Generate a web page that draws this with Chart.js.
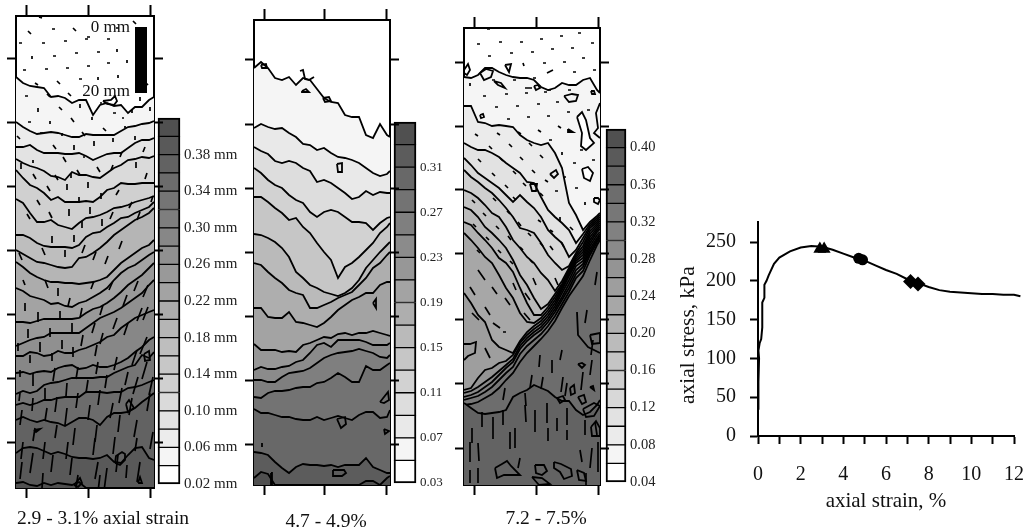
<!DOCTYPE html>
<html><head><meta charset="utf-8">
<style>html,body{margin:0;padding:0;background:#fff;overflow:hidden}canvas{position:absolute;display:block}</style>
<script src="https://cdn.jsdelivr.net/npm/chart.js@4/dist/chart.umd.min.js"></script>
</head><body>
<script>
// ---------- axial stress / strain curve ----------
const curveStrain=[0,0.03,0.01,0.05,0.02,0.08,0.15,0.2,0.2,0.3,0.3,0.4,0.5,0.75,1,1.5,2,2.5,3,3.5,4,4.5,5,5.5,6,6.5,7,7.5,8,8.5,9,9.5,10,10.5,11,11.5,12,12.3];
const curveStress=[35,60,70,100,110,120,125,140,172,178,195,200,207,222,230,238,243,245,244,240,235,230,226,220,214,209,202,197,192,188,186,185,184,183,183,182,182,180];
const triangleStrain=[2.9,3.1], triangleStress=[241,241];
const circleStrain=[4.72,4.9], circleStress=[229,227];
const diamondStrain=[7.15,7.5], diamondStress=[199,196];
const strainTicks=[0,1,2,3,4,5,6,7,8,9,10,11,12];
const stressTicks=[0,50,100,150,200,250];

// ---------- colour-bar tick labels ----------
const bar1Ticks=[0.02,0.06,0.10,0.14,0.18,0.22,0.26,0.30,0.34,0.38];
const bar2Ticks=[0.03,0.07,0.11,0.15,0.19,0.23,0.27,0.31];
const bar3Ticks=[0.04,0.08,0.12,0.16,0.20,0.24,0.28,0.32,0.36,0.40];

// ---------- panel 1: 2.9 - 3.1 % ----------
const p1X=[0,7,14,21,28,35,42,49,56,63,70,77,84,91,98,105,112,119,126,133,138];
const p1c01=[61,67,70,71,72,81,80,82,87,84,84,99,89,87,90,89,97,91,91,84,81];
const p1c02=[106,111,115,118,117,116,117,119,121,121,118,119,119,119,119,115,111,110,108,107,105];
const p1c03=[131,131,129,134,137,137,137,138,138,137,140,144,141,138,137,137,132,127,124,124,122];
const p1c04=[143,147,150,152,155,160,161,164,156,159,159,161,162,157,152,149,144,143,141,142,140];
const p1c05=[154,162,169,172,177,184,181,186,186,186,185,186,181,174,172,167,168,168,167,167,167];
const p1c06=[183,187,197,206,206,204,209,211,213,207,202,201,199,196,192,191,189,186,184,182,180];
const p1c07=[219,219,222,227,230,231,231,231,232,229,221,217,216,211,207,202,201,197,194,191,186];
const p1c08=[234,238,242,246,247,249,251,252,251,242,241,237,232,226,219,214,209,204,201,197,192];
const p1c09=[246,251,257,261,264,266,266,267,267,268,267,266,264,261,254,247,242,237,232,229,224];
const p1c10=[272,275,280,282,284,288,287,290,291,287,285,281,277,272,264,257,252,249,244,239,236];
const p1c11=[306,306,307,305,303,303,303,303,303,302,297,293,291,287,282,276,269,264,259,252,247];
const p1c12=[330,327,324,322,321,317,317,317,317,317,312,307,302,299,296,292,287,282,277,269,264];
const p1c13=[340,340,336,337,340,339,335,337,337,334,332,329,326,321,319,312,307,302,299,296,294];
const p1c14=[357,356,358,356,355,356,352,350,349,353,352,349,351,351,349,346,342,336,331,324,321];
const p1c15=[378,375,377,375,369,367,366,364,362,362,362,362,361,361,357,354,351,349,339,342,336];
const p1c16=[389,387,389,387,384,384,382,381,381,381,376,376,376,377,376,376,372,371,369,366,364];
const p1c17=[404,401,404,406,404,406,407,410,406,402,402,404,409,401,397,397,396,392,386,381,377];
const p1c18=[437,432,431,432,435,438,436,438,441,442,442,443,442,439,446,447,439,432,431,442,444];
const p1c19=[467,466,469,470,467,469,467,468,469,466,472,472,472,472,472,472,472,472,472,472,472];
const p1Islands=[
 [[99,447],[100,440],[106,436],[109,438],[109,444],[104,449],[99,447]],
 [[87,85],[95,84],[99,80],[101,85],[98,89],[91,88],[87,85]],
 [[122,467],[124,461],[126,467],[122,467]],
 [[58,469],[64,462],[66,467],[62,471],[58,469]],
 [[128,338],[133,335],[134,344],[129,345],[128,338]],
 [[18,414],[24,413],[20,416],[18,414]],
 [[110,388],[113,384],[118,392],[112,396],[110,388]]
];
const p1ScaleBar=[[125,11],[125,77]];
// displacement arrows: x, y, dx, dy
const p1Vectors=[
 [23,1,3,1],[12,15,3,3],[36,13,3,0],[57,12,3,3],[71,21,3,0],[3,27,3,0],[26,27,3,0],[48,25,3,0],[69,23,3,0],[117,5,3,3],[91,23,3,0],[100,12,3,0],
 [16,40,0,3],[37,40,3,0],[59,37,3,0],[81,36,3,0],[101,33,0,3],[7,54,3,0],[29,53,3,0],[50,52,3,0],[71,50,3,0],[91,47,3,0],[111,44,0,3],
 [19,67,3,2],[41,65,3,3],[63,63,3,0],[82,61,0,3],[102,59,0,3],[130,67,2,2],[9,80,3,0],[31,78,3,3],[52,77,3,3],[22,92,0,4],[43,91,3,3],[64,88,0,4],[84,87,2,0],
 [124,81,0,4],[134,91,0,4],[116,94,0,3],[97,97,3,0],[12,106,3,0],[34,105,0,3],[55,102,3,4],[76,101,0,3],[106,102,2,0],[87,112,3,3],[109,110,0,2],
 [1,120,3,3],[24,117,3,0],[46,117,0,3],[66,116,3,4],[97,122,0,4],[119,120,0,4],[37,129,3,4],[58,129,0,5],[78,125,0,5],[106,136,-2,5],[129,131,-2,5],
 [17,144,0,3],[47,141,3,5],[67,141,2,0],[97,149,-2,5],[120,146,0,6],[81,151,3,5],[61,154,3,5],[5,147,0,6],[17,158,3,5],[39,159,3,5],[55,157,0,5],[131,157,-2,6],
 [31,170,3,5],[51,168,0,6],[72,166,0,6],[103,174,-3,5],[21,184,3,5],[85,177,0,6],[63,181,0,6],[116,186,-3,6],[137,180,-2,6],[33,196,3,6],[53,193,0,7],[74,191,0,7],[97,196,-3,7],[124,196,-3,8],[11,198,3,5],
 [36,220,0,7],[58,219,0,7],[86,203,0,7],[66,205,0,7],[26,232,3,7],[80,236,-3,8],[106,225,-3,8],[3,237,3,7],[49,234,0,7],[69,229,-3,8],[92,240,-3,8],
 [7,264,2,5],[29,264,3,8],[42,272,0,8],[54,282,-2,8],[78,265,-3,8],[97,265,-4,9],[122,265,-4,10],[9,287,0,8],[22,296,0,10],[44,295,0,9],[66,292,-2,10],[87,289,-3,10],[111,279,-4,11],[132,269,-5,12],
 [12,313,0,9],[34,312,0,9],[56,307,0,10],[79,307,-3,10],[101,302,-4,11],[126,292,-5,13],[2,327,0,8],[24,326,0,10],[46,324,0,9],[67,319,-2,11],[87,317,-3,11],[112,307,-4,12],[132,291,-5,13],
 [14,339,0,8],[36,337,0,8],[57,331,0,10],[81,329,-2,11],[4,354,0,7],[17,357,0,13],[39,352,-2,13],[62,351,-2,12],[82,346,-2,12],[101,341,-3,13],[121,334,-5,15],[131,321,-7,17],
 [4,377,-1,8],[29,372,0,12],[51,367,-1,13],[72,364,-2,13],[91,359,-2,13],[112,356,-3,13],[131,346,-5,17],[17,382,-1,13],[41,381,-2,15],[62,377,-2,15],[84,374,-2,15],[106,372,-3,15],[122,361,-5,17],[137,361,-4,18],
 [6,394,-2,15],[31,392,-2,13],[51,392,-2,17],[74,389,-2,15],[97,387,-3,15],[116,382,-3,17],[134,377,-3,18],[19,412,-2,13],[41,409,-2,13],[59,412,-2,17],[81,409,-2,17],[104,399,-2,17],[121,404,-3,17],
 [7,426,-2,17],[29,426,-2,17],[52,426,-2,17],[79,422,-2,17],[99,421,-2,17],[121,422,-2,13],[137,416,-3,17],[6,446,-2,17],[17,437,-3,20],[37,439,-2,17],[56,442,-2,17],[82,446,-3,17],[102,439,-2,17],[124,446,-3,20],
 [27,457,-1,15],[62,459,-2,13],[91,452,-3,23],[111,449,-1,13],[84,459,-2,17]
];

// ---------- panel 2: 4.7 - 4.9 % ----------
const p2X=[0,7,14,21,28,35,42,49,56,63,70,77,84,91,98,105,112,119,126,133,136];
const p2c01=[48,42,48,58,60,57,65,58,60,69,78,82,83,95,97,97,115,118,104,115,117];
const p2c02=[108,104,107,109,108,113,117,124,125,130,128,133,137,138,140,143,148,153,156,154,151];
const p2c03=[127,131,134,141,143,141,143,148,151,162,160,163,168,173,179,177,171,175,172,173,173];
const p2c04=[148,153,160,165,168,175,180,183,192,197,192,190,192,197,202,202,203,210,203,198,197];
const p2c05=[177,177,182,188,193,200,198,207,213,223,232,240,258,247,243,237,230,223,213,207,203];
const p2c06=[214,215,218,222,228,237,252,258,265,268,272,274,276,273,268,260,248,240,232,225,222];
const p2c07=[243,245,252,258,263,270,273,275,288,288,285,282,278,275,272,265,258,248,243,235,232];
const p2c08=[288,288,297,298,298,292,302,303,305,307,303,297,290,285,280,277,273,273,265,262,262];
const p2c09=[324,330,330,330,332,331,332,325,323,320,317,318,314,313,315,313,313,311,313,315,316];
const p2c10=[350,347,349,349,347,346,342,340,333,325,323,327,320,320,320,320,322,325,325,325,323];
const p2c11=[360,360,362,362,357,353,352,351,348,343,338,335,333,332,331,329,331,333,337,338,335];
const p2c12=[377,378,373,371,371,370,368,367,367,363,362,358,353,357,362,362,346,350,350,345,343];
const p2c13=[389,393,393,395,397,397,399,400,400,397,400,398,396,398,400,395,392,392,398,397,390];
const p2c14=[432,433,435,442,448,453,447,444,445,445,446,445,447,445,445,445,438,447,450,453,453];
const p2c15=[458,452,454,465,465,465,465,465,465,465,465,465,465,465,465,465,461,461,465,458,456];
const p2Islands=[
 [[7,45],[12,44],[13,48],[8,48],[7,45]],
 [[48,71],[52,69],[55,72],[48,72],[48,71]],
 [[69,78],[75,77],[77,81],[71,82],[69,78]],
 [[83,144],[88,143],[88,152],[84,152],[83,144]],
 [[119,283],[122,279],[122,288],[119,283]],
 [[83,399],[91,397],[92,404],[87,408],[83,399]],
 [[130,409],[135,411],[131,414],[130,409]],
 [[126,382],[134,372],[135,380],[130,383],[126,382]],
 [[79,450],[90,450],[92,453],[88,456],[79,456],[79,450]],
 [[46,51],[49,50],[51,59],[55,60],[60,57],[55,60],[51,59],[49,50],[46,51]],
 [[8,423],[8,427],[8,423]],
 [[17,453],[17,465],[18,465],[18,453],[17,453]]
];

// ---------- panel 3: 7.2 - 7.5 % ----------
const p3X=[0,7,14,21,28,35,42,49,56,63,70,77,84,91,98,105,112,119,126,133,136];
const p3c01=[49,50,47,40,40,44,47,49,50,50,52,59,62,60,55,57,57,52,50,62,65];
const p3c02=[78,78,94,95,98,97,98,99,107,112,115,117,115,125,140,175,187,202,194,188,185];
const p3c03=[115,119,122,122,125,129,135,140,145,154,155,169,182,189,195,202,215,206,196,190,187];
const p3c04=[130,137,145,150,155,160,167,174,167,174,180,189,202,209,215,229,222,210,198,192,189];
const p3c05=[142,149,154,160,165,172,180,189,200,202,205,215,227,235,242,238,225,214,200,194,191];
const p3c06=[162,165,170,177,185,189,199,212,220,229,235,245,252,263,253,240,227,218,203,196,193];
const p3c07=[179,182,189,199,205,212,220,232,247,257,270,281,276,266,256,242,229,221,206,198,195];
const p3c08=[194,197,205,212,220,230,235,244,260,275,287,287,279,269,258,244,231,224,209,200,197];
const p3c09=[205,212,220,229,235,247,260,270,285,294,295,290,282,272,260,246,233,227,212,202,199];
const p3c10=[265,275,287,294,312,319,322,325,313,304,298,293,285,275,262,248,235,230,215,204,201];
const p3c11=[362,360,350,342,340,335,333,327,315,307,301,296,288,278,265,252,238,233,218,207,204];
const p3c12=[365,363,359,354,349,343,337,331,318,310,304,299,291,281,269,256,242,236,221,210,206];
const p3c13=[369,367,364,359,354,347,340,334,321,313,307,302,294,284,272,260,246,239,224,212,208];
const p3c14=[372,370,368,364,359,352,345,339,326,318,312,306,298,288,276,264,250,243,227,214,210];
const p3c15=[377,376,374,370,366,360,352,345,334,325,318,311,303,293,280,268,258,248,232,217,212];
const p3c16=[375,380,385,386,385,384,382,369,365,362,357,360,363,369,373,373,382,387,384,377,372];
const p3Islands=[
 [[0,42],[4,36],[6,42],[3,47],[0,45]],
 [[16,45],[22,41],[29,43],[27,49],[20,52],[16,45]],
 [[41,37],[47,36],[45,44],[41,37]],
 [[30,53],[37,55],[41,60],[34,57],[30,53]],
 [[70,58],[74,57],[76,60],[72,62],[70,58]],
 [[100,68],[108,66],[114,67],[112,73],[105,74],[100,68]],
 [[16,87],[19,86],[20,89],[17,90],[16,87]],
 [[104,101],[109,104],[104,104],[104,101]],
 [[136,75],[132,85],[134,100],[130,105],[136,110]],
 [[86,146],[92,142],[94,146],[90,150],[86,146]],
 [[66,156],[73,156],[72,163],[68,163],[66,156]],
 [[130,170],[134,170],[136,172],[134,176],[130,174],[130,170]],
 [[127,63],[130,63],[131,66],[128,66],[127,63]],
 [[0,316],[6,316],[12,314],[11,325],[4,328],[0,332]],
 [[114,336],[118,335],[121,337],[118,340],[114,336]],
 [[106,360],[110,357],[111,365],[107,367],[106,360]],
 [[93,370],[99,368],[101,372],[96,375],[93,370]],
 [[114,369],[120,367],[122,374],[118,376],[114,369]],
 [[126,359],[129,358],[130,362],[126,359]],
 [[113,284],[114,307],[124,319],[136,325]],
 [[126,307],[136,305],[136,315],[128,316],[126,307]],
 [[119,381],[130,375],[136,378],[130,388],[122,389],[119,381]],
 [[127,399],[132,393],[136,400],[136,408],[128,408],[127,399]],
 [[31,440],[38,436],[43,433],[47,438],[56,447],[40,447],[33,450],[31,440]],
 [[71,437],[80,437],[83,443],[78,447],[72,445],[71,437]],
 [[68,449],[78,450],[86,456],[75,457],[68,449]],
 [[90,434],[97,436],[107,441],[108,448],[100,451],[96,444],[90,440],[90,434]],
 [[113,442],[120,445],[122,453],[115,452],[113,442]]
];
const p3LightIslands=[
 [[113,89],[118,84],[122,92],[126,110],[130,115],[122,122],[117,118],[118,105],[113,89]],
 [[118,141],[124,139],[129,145],[126,153],[120,150],[118,141]]
];
const p3Vectors=[
 [23,1,3,0],[13,16,3,0],[35,14,3,0],[56,14,3,0],[76,11,3,0],[96,8,3,0],[114,5,3,0],[24,28,3,0],[46,25,3,0],[67,24,3,0],[87,21,3,0],[107,20,3,0],[127,15,3,0],
 [59,35,1,3],[79,35,3,0],[99,34,3,0],[118,30,3,0],[129,42,3,0],[83,45,6,-3],[109,44,3,0],[6,55,0,3],[28,52,3,0],[49,52,3,0],[69,50,3,0],[61,60,7,0],[84,62,3,0],
 [19,68,3,0],[41,66,3,0],[61,65,3,0],[80,64,3,0],[104,62,3,0],[31,79,3,0],[52,78,3,0],[73,76,3,0],[92,74,3,0],[123,82,3,0],[43,91,3,0],[63,89,3,0],[83,88,3,0],[103,84,3,0],
 [11,106,3,2],[33,105,3,2],[54,104,3,2],[74,102,3,2],[94,98,3,2],[25,118,3,3],[45,116,3,3],[65,115,3,3],[85,112,3,0],[98,124,0,3],[116,122,3,0],
 [14,131,3,3],[36,130,3,3],[56,129,3,3],[76,127,3,3],[109,135,3,0],[128,132,3,0],[28,145,3,3],[49,143,3,3],[68,142,3,3],[81,152,3,2],[99,149,3,0],
 [41,157,3,3],[59,155,3,3],[91,163,3,0],[111,160,3,0],[8,172,3,3],[29,170,3,3],[49,169,3,3],[76,165,3,3],[121,174,0,3],[19,185,3,3],[43,183,3,3],[74,192,3,2],[96,189,0,5],
 [54,194,3,4],[86,202,3,2],[32,198,3,3],[9,196,3,3],[106,199,3,3],[22,209,3,3],[44,208,3,4],[64,205,3,3],[97,214,3,5],[34,222,3,3],[56,219,3,3],[76,215,3,3],[13,222,3,3],[86,218,3,4],[46,233,3,3],[66,232,3,3],
 [14,242,7,10],[6,259,5,8],[28,259,5,7],[49,255,3,7],[69,250,3,7],[91,250,3,7],[8,285,7,7],[21,279,5,8],[41,270,5,7],[61,265,5,7],[29,295,7,5],[39,304,3,0],[21,320,5,10],[60,285,6,7],
 [98,322,-2,10],[76,327,-1,12],[88,332,0,13],[68,347,-2,13],[129,312,-2,15],[123,282,-2,13],[133,244,-2,13],[79,349,-2,12],[99,349,-2,15],[119,344,-2,18],[61,365,1,13],[103,355,-2,13],[128,332,-2,15],[41,360,-2,12],
 [18,384,0,15],[8,400,0,15],[29,389,0,22],[39,382,0,15],[61,377,1,17],[71,382,0,22],[83,375,0,20],[103,380,0,17],[121,392,0,15],[51,400,0,20],[14,415,1,18],[6,414,0,20],[84,400,0,13],[103,402,0,10],[46,404,0,17],
 [116,422,2,12],[128,420,-2,20],[134,414,0,30],[6,442,0,13],[14,440,0,15],[56,430,-2,10],[122,445,0,13],[131,394,2,13],[93,390,0,13]
];

// ---------- drawing helpers ----------
const SERIF='"Liberation Serif","Times New Roman",serif';
const ramp=n=>Array.from({length:n},(_,i)=>{if(i===0)return '#ffffff';const g=Math.round(245-(i-1)*165/(n-2));return `rgb(${g},${g},${g})`;});
const noPad=s=>{s.paddingTop=0;s.paddingBottom=0;s.paddingLeft=0;s.paddingRight=0;};
const notesPlugin={id:'notes',afterDraw(chart){
  const list=chart.options.plugins.notes.items||[];const ctx=chart.ctx;
  list.forEach(n=>{ctx.save();
    ctx.font=`${n.size}px ${SERIF}`;ctx.fillStyle='#111';ctx.textAlign=n.align||'center';ctx.textBaseline='middle';
    const xs=chart.scales.x,ys=chart.scales.y;
    ctx.translate(xs.getPixelForValue(n.x),ys.getPixelForValue(n.y));
    if(n.rot)ctx.rotate(n.rot);
    ctx.fillText(n.text,0,0);ctx.restore();});
}};
function mkCanvas(left,top,width,height,z){
  const c=document.createElement('canvas');c.width=width;c.height=height;
  c.style.cssText=`left:${left}px;top:${top}px;width:${width}px;height:${height}px;z-index:${z}`;
  document.body.appendChild(c);return c;
}
function frameAxis(cfg){
  const {axis,position,min,max,ticks,reverse,size,tickLen}=cfg;
  return {type:'linear',axis,position,min,max,reverse:!!reverse,
    afterBuildTicks:s=>{s.ticks=ticks.map(v=>({value:v}));},
    afterFit:s=>{noPad(s);if(axis==='x')s.height=size;else s.width=size;},
    ticks:{display:false},
    grid:{drawOnChartArea:false,drawTicks:true,tickLength:tickLen,tickColor:'#000',tickWidth:2},
    border:{display:true,color:'#000',width:2}};
}
function panel(o){
  const {rect,w,h,xTicks,yTicks,stations,lines,islands,light,vectors,bar,notes,palette}=o;
  const ML=rect.mL,MT=rect.mT,MR=rect.mR,MB=rect.mB;
  const c=mkCanvas(rect.x-ML,rect.y-MT,w+ML+MR,h+MT+MB,5);
  const ds=[];const N=lines.length;
  lines.forEach((ys,k)=>ds.push({data:stations.map((x,i)=>({x,y:ys[i]})),borderColor:'#000',borderWidth:1.8,
    backgroundColor:palette[k+1],fill:'start',pointRadius:0,tension:0,order:N-k+5}));
  (light||[]).forEach(p=>ds.push({data:p.map(q=>({x:q[0],y:q[1]})),borderColor:'#000',borderWidth:1.8,backgroundColor:'#ffffff',fill:'shape',pointRadius:0,order:1}));
  (islands||[]).forEach(p=>ds.push({data:p.map(q=>({x:q[0],y:q[1]})),borderColor:'#000',borderWidth:1.8,fill:false,pointRadius:0,order:0}));
  if(vectors){const d=[];vectors.forEach(v=>{d.push({x:v[0],y:v[1]},{x:v[0]+v[2],y:v[1]+v[3]},{x:NaN,y:NaN});});
    ds.push({data:d,borderColor:'#000',borderWidth:1.7,fill:false,pointRadius:0,spanGaps:false,order:-2});}
  if(bar)ds.push({data:bar.map(q=>({x:q[0],y:q[1]})),borderColor:'#000',borderWidth:12,fill:false,pointRadius:0,order:-3});
  return new Chart(c,{type:'line',data:{datasets:ds},plugins:[notesPlugin],options:{
    responsive:false,animation:false,events:[],layout:{padding:0,autoPadding:false},
    plugins:{legend:{display:false},tooltip:{enabled:false},notes:{items:notes}},
    scales:{
      x:frameAxis({axis:'x',position:'bottom',min:0,max:w,ticks:xTicks,size:MB,tickLen:10}),
      xTop:frameAxis({axis:'x',position:'top',min:0,max:w,ticks:xTicks,size:MT,tickLen:11}),
      y:frameAxis({axis:'y',position:'left',min:0,max:h,ticks:yTicks,reverse:true,size:ML,tickLen:9}),
      yRight:frameAxis({axis:'y',position:'right',min:0,max:h,ticks:yTicks,reverse:true,size:MR,tickLen:9})
    }}});
}
function colorBar(o){
  const {left,top,width,height,lo,step,n,ticks,suffix,size,palette}=o;
  const padT=4,padB=16,labelW=70;
  const c=mkCanvas(left-2,top-padT,width+2+labelW,height+padT+padB,1);
  const ds=[{data:[lo],backgroundColor:'rgba(0,0,0,0)',borderWidth:0,barPercentage:1,categoryPercentage:1}];
  for(let i=0;i<n;i++)ds.push({data:[step],backgroundColor:palette[i],borderColor:'#000',
    borderWidth:{left:2,right:2,top:i===n-1?2:1,bottom:i===0?2:1},borderSkipped:false,barPercentage:1,categoryPercentage:1,clip:false});
  return new Chart(c,{type:'bar',data:{labels:['scale'],datasets:ds},options:{
    responsive:false,animation:false,events:[],layout:{padding:{left:2,top:padT,bottom:padB,right:0},autoPadding:false},
    plugins:{legend:{display:false},tooltip:{enabled:false}},
    scales:{
      x:{stacked:true,display:false},
      y:{stacked:true,position:'right',min:lo,max:lo+step*n,
        afterBuildTicks:s=>{s.ticks=ticks.map(v=>({value:v}));},
        afterFit:s=>{noPad(s);s.width=labelW;},
        ticks:{autoSkip:false,padding:4,color:'#222',font:{family:SERIF,size},callback:v=>v.toFixed(2)+suffix},
        grid:{display:false,drawTicks:false},border:{display:false}}
    }}});
}

// ---------- build ----------
const pal1=ramp(20),pal2=ramp(16),pal3=ramp(19);
colorBar({left:158,top:118,width:22,height:366,lo:0.02,step:0.02,n:20,ticks:bar1Ticks,suffix:' mm',size:15,palette:pal1});
colorBar({left:394,top:122,width:22,height:361,lo:0.03,step:0.02,n:16,ticks:bar2Ticks,suffix:'',size:13,palette:pal2});
colorBar({left:606,top:129,width:20,height:353,lo:0.04,step:0.02,n:19,ticks:bar3Ticks,suffix:'',size:14.5,palette:pal3});

panel({rect:{x:16,y:16,mL:10,mT:12,mR:36,mB:531-488},w:138,h:472,xTicks:[10,72,134],yTicks:[42,106,170,234,298,362,426],
  stations:p1X,lines:[p1c01,p1c02,p1c03,p1c04,p1c05,p1c06,p1c07,p1c08,p1c09,p1c10,p1c11,p1c12,p1c13,p1c14,p1c15,p1c16,p1c17,p1c18,p1c19],
  islands:p1Islands,vectors:p1Vectors,bar:p1ScaleBar,palette:pal1,
  notes:[{text:'0 mm',x:114,y:12,size:17,align:'right'},{text:'20 mm',x:114,y:76,size:17,align:'right'},{text:'2.9 - 3.1% axial strain',x:87,y:503,size:19.5}]});
panel({rect:{x:254,y:20,mL:12,mT:12,mR:10,mB:531-485},w:136,h:465,xTicks:[10,70,132],yTicks:[39,104,168,232,296,360,424],
  stations:p2X,lines:[p2c01,p2c02,p2c03,p2c04,p2c05,p2c06,p2c07,p2c08,p2c09,p2c10,p2c11,p2c12,p2c13,p2c14,p2c15],
  islands:p2Islands,palette:pal2,
  notes:[{text:'4.7 - 4.9%',x:72,y:502,size:19.5}]});
panel({rect:{x:464,y:28,mL:10,mT:12,mR:12,mB:531-485},w:136,h:457,xTicks:[10,72,134],yTicks:[34,98,161,225,291,355,420],
  stations:p3X,lines:[p3c01,p3c02,p3c03,p3c04,p3c05,p3c06,p3c07,p3c08,p3c09,p3c10,p3c11,p3c12,p3c13,p3c14,p3c15,p3c16],
  islands:p3Islands,light:p3LightIslands,vectors:p3Vectors,palette:pal3,
  notes:[{text:'7.2 - 7.5%',x:82,y:491,size:19.5}]});

// stress-strain chart
(function(){
  const c=mkCanvas(675,215,352,316,5);
  const zip=(a,b)=>a.map((x,i)=>({x,y:b[i]}));
  const marker=(xs,ys,style,r)=>({data:zip(xs,ys),showLine:false,pointStyle:style,pointRadius:r,pointBackgroundColor:'#000',pointBorderColor:'#000',pointBorderWidth:0,clip:false});
  new Chart(c,{type:'line',data:{datasets:[
    marker(triangleStrain,triangleStress,'triangle',7.5),
    marker(circleStrain,circleStress,'circle',5.5),
    marker(diamondStrain,diamondStress,'rectRot',7.5),
    {data:zip(curveStrain,curveStress),borderColor:'#000',borderWidth:2,pointRadius:0,fill:false,tension:0,clip:false}
  ]},plugins:[notesPlugin],options:{
    responsive:false,animation:false,events:[],layout:{padding:{top:7,right:13,left:0,bottom:0},autoPadding:false},
    plugins:{legend:{display:false},tooltip:{enabled:false},notes:{items:[{text:'axial stress, kPa',x:-3.27,y:130,size:21.5,rot:-Math.PI/2}]}},
    scales:{
      x:{type:'linear',min:0,max:12,
        afterBuildTicks:s=>{s.ticks=strainTicks.map(v=>({value:v}));},
        afterFit:s=>{noPad(s);s.height=95;},
        ticks:{autoSkip:false,maxRotation:0,padding:19,color:'#111',font:{family:SERIF,size:20},callback:v=>v%2===0?String(v):''},
        grid:{drawOnChartArea:false,drawTicks:true,tickLength:8,tickColor:'#000',tickWidth:2},
        border:{display:true,color:'#000',width:2},
        title:{display:true,text:'axial strain, %',color:'#111',font:{family:SERIF,size:21},padding:{top:0,bottom:17}}},
      y:{type:'linear',min:0,max:275.8,
        afterBuildTicks:s=>{s.ticks=stressTicks.map(v=>({value:v}));},
        afterFit:s=>{noPad(s);s.width=83;},
        ticks:{padding:14,color:'#111',font:{family:SERIF,size:20}},
        grid:{drawOnChartArea:false,drawTicks:true,tickLength:8,tickColor:'#000',tickWidth:2},
        border:{display:true,color:'#000',width:2}}
    }}});
})();
</script>
</body></html>
